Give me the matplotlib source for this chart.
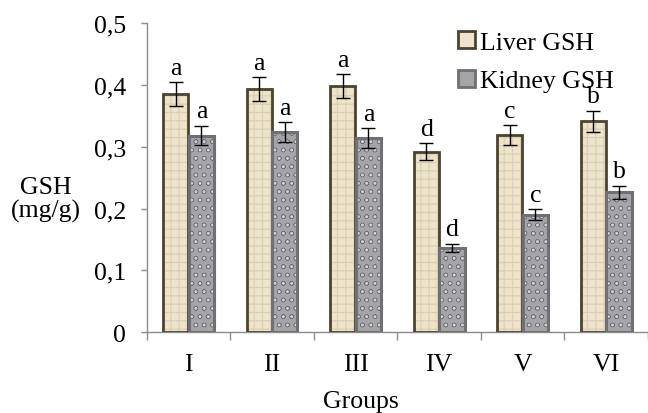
import matplotlib
matplotlib.use("Agg")
import matplotlib.pyplot as plt
import numpy as np
from matplotlib.patches import Patch

groups = ["I", "II", "III", "IV", "V", "VI"]
liver = [0.385, 0.393, 0.398, 0.292, 0.319, 0.341]
liver_err = [0.019, 0.019, 0.019, 0.014, 0.016, 0.017]
kidney = [0.318, 0.324, 0.314, 0.136, 0.190, 0.226]
kidney_err = [0.016, 0.016, 0.016, 0.007, 0.009, 0.011]
liver_letters = ["a", "a", "a", "d", "c", "b"]
kidney_letters = ["a", "a", "a", "d", "c", "b"]
yticks = [0, 0.1, 0.2, 0.3, 0.4, 0.5]
ytick_labels = ["0", "0,1", "0,2", "0,3", "0,4", "0,5"]

plt.rcParams['font.family'] = ['Liberation Serif', 'DejaVu Serif']
plt.rcParams['hatch.linewidth'] = 0.9
FS = 18.5

fig = plt.figure(figsize=(6.48, 4.14), dpi=100)
ax = fig.add_axes([0.2264, 0.195, 0.783, 0.747])

x = np.arange(len(groups))
w = 0.30
off = 0.155

liver_fill = "#ede4cb"
liver_edge = "#4a4430"
kid_fill = "#a4a4a9"
kid_edge = "#707072"

# textured fills
ax.bar(x - off, liver, w, color=liver_fill, edgecolor="#dacfb3", hatch="++", linewidth=0, zorder=2)
ax.bar(x + off, kidney, w, color=kid_fill, edgecolor="#6a6a6e", hatch="oo", linewidth=0, zorder=2)
ax.bar(x + off, kidney, w, fill=False, edgecolor="#d4d4d8", hatch="..", linewidth=0, zorder=2)
# borders
ax.bar(x - off, liver, w, fill=False, edgecolor=liver_edge, linewidth=2.0, zorder=3)
ax.bar(x + off, kidney, w, fill=False, edgecolor=kid_edge, linewidth=2.2, zorder=3)

ax.errorbar(x - off, liver, yerr=liver_err, fmt="none", ecolor="black", elinewidth=1, capsize=5, capthick=1, zorder=4)
ax.errorbar(x + off, kidney, yerr=kidney_err, fmt="none", ecolor="black", elinewidth=1, capsize=5, capthick=1, zorder=4)

for xi, v, e, t in zip(x - off, liver, liver_err, liver_letters):
    ax.annotate(t, (xi, v + e), xytext=(0, 2.5), textcoords="offset points", ha="center", va="bottom", fontsize=FS)
for xi, v, e, t in zip(x + off, kidney, kidney_err, kidney_letters):
    ax.annotate(t, (xi, v + e), xytext=(0, 2.5), textcoords="offset points", ha="center", va="bottom", fontsize=FS)

ax.set_ylim(0, 0.5)
ax.set_xlim(-0.5, 5.5 + 0.075)
ax.set_yticks(yticks)
ax.set_yticklabels(ytick_labels, fontsize=FS)
ax.set_xticks(np.arange(-0.5, 6.0, 1.0))
ax.set_xticklabels([])
ax.set_xticks(x, minor=True)
ax.set_xticklabels(groups, minor=True, fontsize=FS)
ax.tick_params(axis="x", which="major", length=5.5, width=1, color="#8c8c8c", direction="out")
ax.tick_params(axis="x", which="minor", length=0, pad=15)
ax.tick_params(axis="y", length=4, width=1, color="#8c8c8c", pad=11)

for s in ["top", "right"]:
    ax.spines[s].set_visible(False)
for s in ["left", "bottom"]:
    ax.spines[s].set_color("#8c8c8c")
    ax.spines[s].set_linewidth(1)

fig.text(361 / 648, 1 - 402 / 414, "Groups", ha="center", va="center", fontsize=FS)
fig.text(46 / 648, 1 - 200 / 414, "GSH\n(mg/g)", ha="center", va="center", fontsize=FS, linespacing=1.0)

handles = [Patch(facecolor=liver_fill, edgecolor=liver_edge, linewidth=2),
           Patch(facecolor=kid_fill, edgecolor=kid_edge, linewidth=2)]
fig.legend(handles, ["Liver GSH", "Kidney GSH"], loc="upper left",
           bbox_to_anchor=(458 / 648, 1 - 32 / 414), frameon=False, fontsize=FS,
           handlelength=0.65, handleheight=0.65, handletextpad=0.2, labelspacing=0.62,
           borderaxespad=0, borderpad=0)

fig.savefig("out.png", dpi=100)
